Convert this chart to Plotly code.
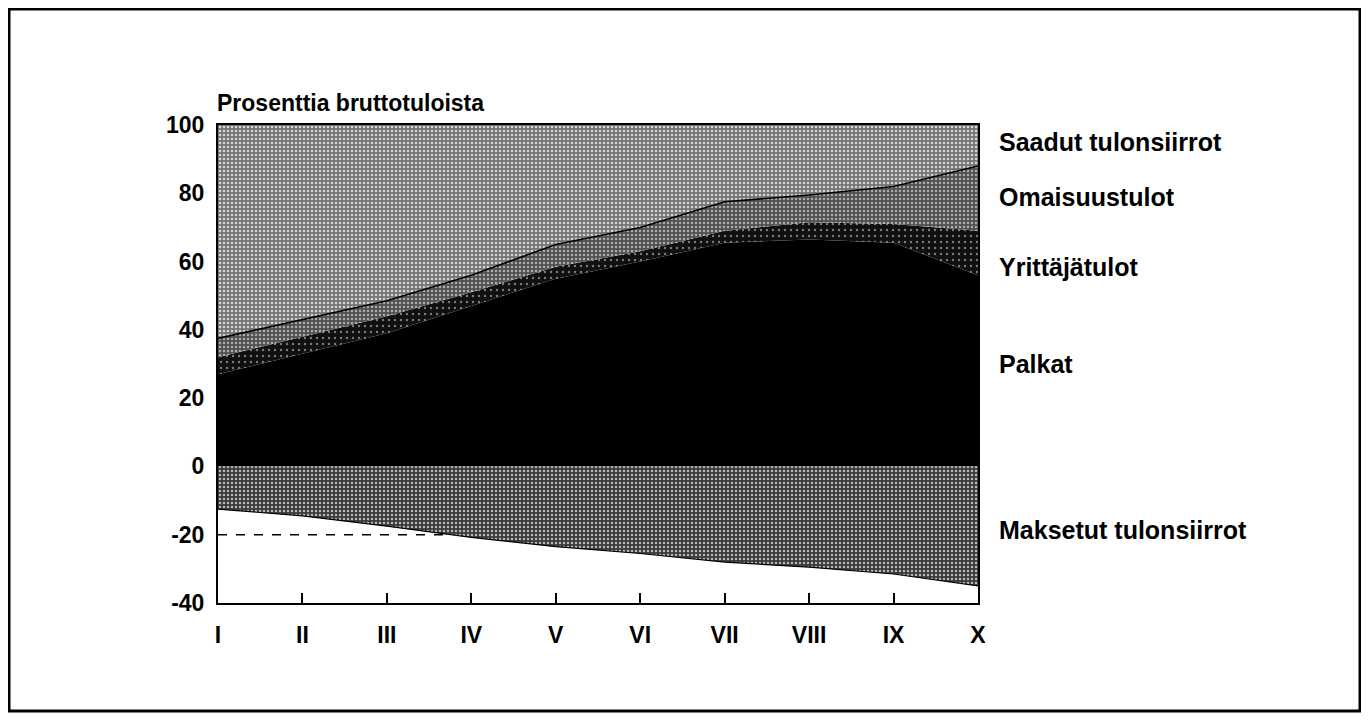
import plotly.graph_objects as go

# ---- data ----
categories = ["I", "II", "III", "IV", "V", "VI", "VII", "VIII", "IX", "X"]
palkat = [27, 33, 39, 47, 55, 60, 65.5, 66.5, 65.5, 56]
yrittajatulot = [5, 5, 5, 4, 3.5, 3, 3.5, 5, 5.5, 13]
omaisuustulot = [5.5, 5, 4.5, 5, 6.5, 7, 8.5, 8, 11, 19]
saadut_tulonsiirrot = [62.5, 57, 51.5, 44, 35, 30, 22.5, 20.5, 18, 12]
maksetut_tulonsiirrot = [-12.5, -14.5, -17.5, -20.8, -23.5, -25.5, -28, -29.5, -31.5, -35]
y_ticks = [-40, -20, 0, 20, 40, 60, 80, 100]
reference_level = -20

series_names = ["Saadut tulonsiirrot", "Omaisuustulot", "Yrittäjätulot", "Palkat",
                "Maksetut tulonsiirrot"]

FONT = "Liberation Sans, Arial, sans-serif"
# the page body has an 8px default margin, so the figure is sized to fit inside it
W, H = 1353, 705
PLOT_W, PLOT_H = 760, 478
L, T = 210, 117
R = W - L - PLOT_W
B = H - T - PLOT_H
PAGE_L, PAGE_B = 218, 603  # plot-area left / bottom in page pixels

x = list(range(len(categories)))

fig = go.Figure()


def add_layer(vals, name, bg, fg, size, solidity, line_color=None, line_width=0):
    fig.add_trace(go.Scatter(
        x=x, y=vals, name=name, stackgroup="pos", mode="lines",
        line=dict(width=line_width, color=line_color or bg),
        fillcolor=bg,
        fillpattern=dict(shape="." if fg else "", bgcolor=bg, fgcolor=fg or bg,
                         size=size, solidity=solidity, fillmode="replace"),
        hoverinfo="skip", showlegend=False,
    ))


add_layer(palkat, "Palkat", "#000000", None, 6, 0.1)
add_layer(yrittajatulot, "Yrittäjätulot", "#101010", "#7a7a7a", 6, 0.12)
add_layer(omaisuustulot, "Omaisuustulot", "#505050", "#acacac", 4, 0.3,
          line_color="#000000", line_width=1.6)
add_layer(saadut_tulonsiirrot, "Saadut tulonsiirrot", "#747474", "#d4d4d4", 4, 0.35,
          line_color="#747474", line_width=0)

fig.add_trace(go.Scatter(
    x=x, y=maksetut_tulonsiirrot, name="Maksetut tulonsiirrot", mode="lines",
    fill="tozeroy", line=dict(width=1.2, color="#000000"),
    fillcolor="#3a3a3a",
    fillpattern=dict(shape=".", bgcolor="#3a3a3a", fgcolor="#b8b8b8",
                     size=4, solidity=0.3, fillmode="replace"),
    hoverinfo="skip", showlegend=False,
))

# dashed reference line at -20 until it meets the lower boundary
xi = None
for i in range(len(maksetut_tulonsiirrot) - 1):
    a, b = maksetut_tulonsiirrot[i], maksetut_tulonsiirrot[i + 1]
    if a >= reference_level > b:
        xi = i + (a - reference_level) / (a - b)
        break
if xi is not None:
    fig.add_trace(go.Scatter(
        x=[0, xi], y=[reference_level, reference_level], mode="lines",
        line=dict(color="#000000", width=1.4, dash="dash"),
        hoverinfo="skip", showlegend=False,
    ))

TICKFONT = dict(family=FONT, size=23, color="#000000", weight="bold")

fig.update_layout(
    width=W, height=H,
    margin=dict(l=L, r=R, t=T, b=B),
    paper_bgcolor="white", plot_bgcolor="white",
    font=dict(family=FONT, size=20, color="#000000"),
    xaxis=dict(
        range=[0, len(categories) - 1], tickmode="array", tickvals=x, ticktext=categories,
        ticks="inside", ticklen=10, tickwidth=1.5, tickcolor="#000000",
        ticklabelstandoff=10,
        showline=True, linecolor="#000000", linewidth=2, mirror=True,
        showgrid=False, zeroline=False, fixedrange=True,
        tickfont=TICKFONT,
    ),
    yaxis=dict(
        range=[-40, 100], tickmode="array", tickvals=y_ticks,
        ticktext=[str(v) for v in y_ticks], ticks="", ticklabelstandoff=7,
        showline=True, linecolor="#000000", linewidth=2, mirror=True,
        showgrid=False, zeroline=False, fixedrange=True,
        tickfont=TICKFONT,
    ),
)

# title above the plot
fig.add_annotation(
    text="Prosenttia bruttotuloista", xref="paper", yref="paper",
    x=0, y=(PAGE_B - 103) / PLOT_H, xanchor="left", yanchor="middle", showarrow=False,
    xshift=-3,
    font=dict(family=FONT, size=23, color="#000000", weight="bold"),
)

# series labels on the right
label_y = [95, 79, 58.3, 30, -18.5]
for name, yv in zip(series_names, label_y):
    fig.add_annotation(
        text=name, xref="paper", yref="y", x=(1000 - PAGE_L) / PLOT_W, y=yv,
        xanchor="left", yanchor="middle", showarrow=False, xshift=-3,
        font=dict(family=FONT, size=25, color="#000000", weight="bold"),
    )

# outer frame around the whole figure
fig.add_shape(
    type="rect", xref="paper", yref="paper",
    x0=(9 - PAGE_L) / PLOT_W, x1=(1360 - PAGE_L) / PLOT_W,
    y0=(PAGE_B - 711) / PLOT_H, y1=(PAGE_B - 9) / PLOT_H,
    line=dict(color="#000000", width=3), fillcolor="rgba(0,0,0,0)", layer="above",
)

fig.write_html("out.html", config={"displayModeBar": False})
